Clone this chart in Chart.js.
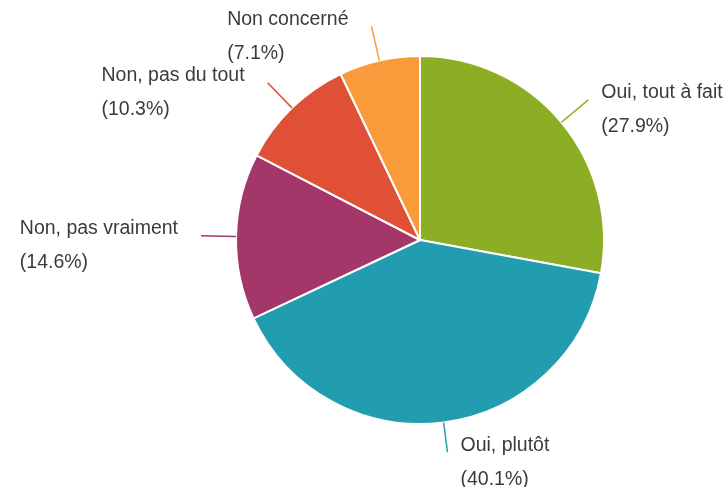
<!DOCTYPE html>
<html>
<head>
<meta charset="utf-8">
<script src="https://cdn.jsdelivr.net/npm/chart.js@4/dist/chart.umd.min.js"></script>
<style>
  html, body { margin: 0; padding: 0; background: #fff; }
  #wrap { width: 728px; height: 487px; }
</style>
</head>
<body>
<div id="wrap"><canvas id="c" width="728" height="487"></canvas></div>
<script>
// Survey answers, clockwise from 12 o'clock
const categories = ["Oui, tout à fait", "Oui, plutôt", "Non, pas vraiment", "Non, pas du tout", "Non concerné"];
const shares = [27.9, 40.1, 14.6, 10.3, 7.1];
const colors = ["#8bae24", "#229db0", "#a3376a", "#e05037", "#f99b3b"];

// Draws a leader line from each slice and a two-line label (name + percentage)
const outsideLabels = {
  id: "outsideLabels",
  afterDatasetsDraw(chart) {
    const ctx = chart.ctx;
    const meta = chart.getDatasetMeta(0);
    const data = chart.data.datasets[0].data;
    ctx.save();
    ctx.font = "19.5px 'Liberation Sans', Arial, sans-serif";
    ctx.textBaseline = "middle";
    meta.data.forEach((arc, i) => {
      const p = arc.getProps(["x", "y", "startAngle", "endAngle", "outerRadius"], true);
      const mid = (p.startAngle + p.endAngle) / 2;
      const cos = Math.cos(mid), sin = Math.sin(mid);
      const x0 = p.x + cos * p.outerRadius, y0 = p.y + sin * p.outerRadius;
      const len = sin > 0.9 ? 30 : 35;
      const x1 = p.x + cos * (p.outerRadius + len), y1 = p.y + sin * (p.outerRadius + len);
      ctx.strokeStyle = colors[i];
      ctx.lineWidth = 1.5;
      ctx.beginPath();
      ctx.moveTo(x0, y0);
      ctx.lineTo(x1, y1);
      ctx.stroke();

      const line1 = chart.data.labels[i];
      const line2 = "(" + data[i].toFixed(1) + "%)";
      const w = Math.max(ctx.measureText(line1).width, ctx.measureText(line2).width);
      const right = cos >= 0;
      const tx = right ? x1 + 13 : x1 - 23 - w;
      ctx.fillStyle = "#3b3b3b";
      ctx.textAlign = "left";
      ctx.fillText(line1, tx, y1 - 7);
      ctx.fillText(line2, tx, y1 + 27);
    });
    ctx.restore();
  }
};

new Chart(document.getElementById("c"), {
  type: "pie",
  data: {
    labels: categories,
    datasets: [{
      data: shares,
      backgroundColor: colors,
      borderColor: "#ffffff",
      borderWidth: 2
    }]
  },
  options: {
    responsive: false,
    animation: false,
    layout: { padding: { top: 55, bottom: 62, left: 235, right: 123 } },
    plugins: {
      legend: { display: false },
      tooltip: { enabled: false }
    }
  },
  plugins: [outsideLabels]
});
</script>
</body>
</html>
